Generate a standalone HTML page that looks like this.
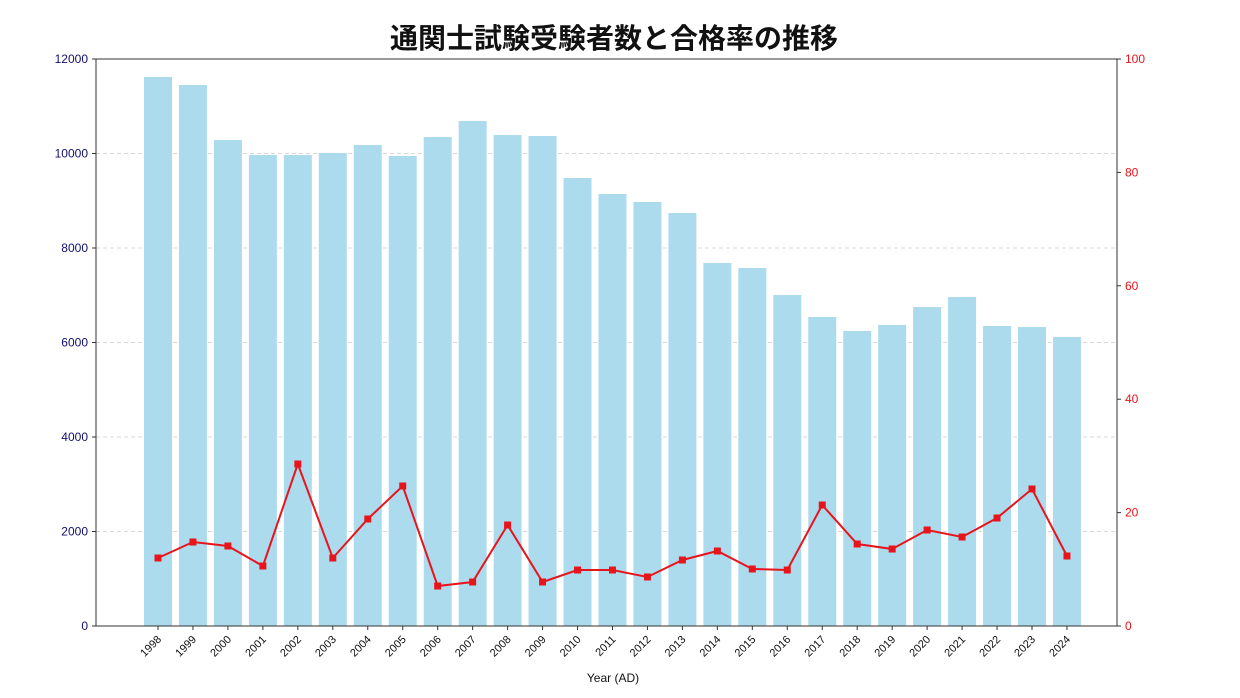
<!DOCTYPE html>
<html><head><meta charset="utf-8"><style>
body{margin:0;background:#fff;}
svg{display:block;font-family:"Liberation Sans","Noto Sans CJK JP",sans-serif;}
</style></head><body>
<svg width="1240" height="698" viewBox="0 0 1240 698" xmlns="http://www.w3.org/2000/svg">
<rect width="1240" height="698" fill="#fff"/>
<text x="614" y="48" text-anchor="middle" font-size="28" font-weight="bold" fill="#111" font-family="Noto Sans CJK JP, sans-serif">通関士試験受験者数と合格率の推移</text>
<g stroke="#d8d8d8" stroke-dasharray="4,3" stroke-width="1">
<line x1="96" x2="1117" y1="531.5" y2="531.5"/><line x1="96" x2="1117" y1="437" y2="437"/><line x1="96" x2="1117" y1="342.5" y2="342.5"/><line x1="96" x2="1117" y1="248" y2="248"/><line x1="96" x2="1117" y1="153.5" y2="153.5"/>
</g>
<g id="bars" fill="#ADDBEE"></g>
<polyline id="ln" fill="none" stroke="#E8141B" stroke-width="2"/>
<g id="mk" fill="#E8141B"></g>
<rect x="96" y="59" width="1021" height="567" fill="none" stroke="#333" stroke-width="1"/>
<g id="lt" font-size="12" fill="#10106e" text-anchor="end"></g>
<g id="rt" font-size="12" fill="#E8141B"></g>
<g id="xt" font-size="11" fill="#111"></g>
<text x="613" y="682" text-anchor="middle" font-size="12" fill="#111">Year (AD)</text>
</svg>
<script>
var ns="http://www.w3.org/2000/svg";
function el(t,a,p,txt){var e=document.createElementNS(ns,t);for(var k in a)e.setAttribute(k,a[k]);if(txt!=null)e.textContent=txt;document.getElementById(p).appendChild(e);return e;}
var tops=[77,85,140,155,155,153,145,156,137,121,135,136,178,194,202,213,263,268,295,317,331,325,307,297,326,327,337];
var ly=[558,542,546,566,464,558,519,486,586,582,525,582,570,570,577,560,551,569,570,505,544,549,530,537,518,489,556];
var pts=[];
for(var i=0;i<27;i++){var cx=158+i*34.96;
el("rect",{x:cx-14,y:tops[i],width:28,height:626-tops[i]},"bars");
pts.push(cx.toFixed(1)+","+ly[i]);
el("rect",{x:cx-3.5,y:ly[i]-3.5,width:7,height:7},"mk");
el("line",{x1:cx,x2:cx,y1:626,y2:630,stroke:"#333"},"xt");
el("text",{x:cx+4,y:640,transform:"rotate(-45 "+(cx+4)+" 640)","text-anchor":"end"},"xt",String(1998+i));
}
document.getElementById("ln").setAttribute("points",pts.join(" "));
for(var k=0;k<=6;k++){var y=626-94.5*k;el("line",{x1:92,x2:96,y1:y,y2:y,stroke:"#333"},"lt");el("text",{x:88,y:y+4},"lt",String(k*2000));}
for(var k=0;k<=5;k++){var y=626-113.4*k;el("line",{x1:1117,x2:1121,y1:y,y2:y,stroke:"#333"},"rt");el("text",{x:1125,y:y+4},"rt",String(k*20));}
</script>
</body></html>
